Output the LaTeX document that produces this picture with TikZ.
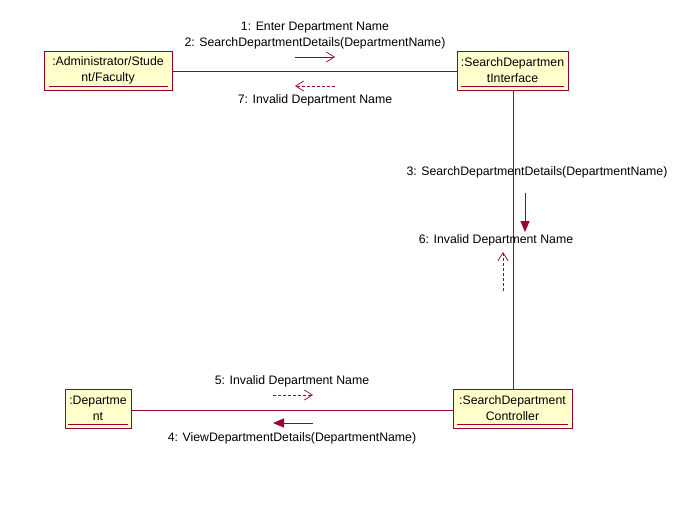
\documentclass[tikz,border=0pt]{standalone}
\usepackage{fontspec}
\setmainfont{Liberation Sans}
\usetikzlibrary{arrows.meta}
\definecolor{uml}{RGB}{150,0,50}
\definecolor{boxfill}{RGB}{255,255,204}
\begin{document}
\begin{tikzpicture}[x=1pt,y=-1pt,
  obj/.style={draw=uml,fill=boxfill,line width=0.9pt,inner sep=0pt,align=center},
  link/.style={draw=uml,line width=0.9pt},
  msg/.style={font=\fontsize{12.3}{15}\selectfont,inner sep=0pt,align=center},
  objtext/.style={font=\fontsize{12.3}{16}\selectfont,inner sep=0pt,align=center},
  synch/.style={draw=uml,line width=1pt,-{Triangle[length=11pt,width=9pt]}},
  call/.style={draw=uml,line width=0.7pt,-{Straight Barb[length=8pt,width=10pt]}},
  ret/.style={draw=uml,line width=0.7pt,dash pattern=on 3pt off 2pt,-{Straight Barb[length=8pt,width=10pt]}}]
\useasboundingbox (0,0) rectangle (689,509);
% boxes
\node[obj,minimum width=128pt,minimum height=39pt] (adm) at (108,70.5) {};
\node[objtext] at (adm.center) {:Administrator/Stude\\nt/Faculty};
\draw[uml,line width=0.8pt] (49,86) -- (168,86);
\node[obj,minimum width=111pt,minimum height=39pt] (sdi) at (512.5,70.5) {};
\node[objtext] at (sdi.center) {:SearchDepartmen\\tInterface};
\draw[uml,line width=0.8pt] (461,86) -- (564,86);
\node[obj,minimum width=119pt,minimum height=39pt] (sdc) at (512.5,408.5) {};
\node[objtext] at (sdc.center) {:SearchDepartment\\Controller};
\draw[uml,line width=0.8pt] (457,424) -- (568,424);
\node[obj,minimum width=66pt,minimum height=39pt] (dep) at (98,408.5) {};
\node[objtext] at (dep.center) {:Departme\\nt};
\draw[uml,line width=0.8pt] (68,424) -- (128,424);
% links
\draw[link] (adm.east |- 0,71) -- (sdi.west |- 0,71);
\draw[link] (sdi.south -| 513,0) -- (sdc.north -| 513,0);
\draw[link] (dep.east |- 0,410) -- (sdc.west |- 0,410);
% messages
\coordinate (m1a) at (295,57); \coordinate (m1b) at (335,57);
\draw[call] (m1a) -- (m1b);
\node[msg] (l1) at (315,28) {1: Enter Department Name};
\node[msg] (l2) at (315,43) {2: SearchDepartmentDetails(DepartmentName)};
\coordinate (m7a) at (335,86); \coordinate (m7b) at (295,86);
\draw[ret] (m7a) -- (m7b);
\node[msg] (l7) at (315,100) {7: Invalid Department Name};
\coordinate (m3a) at (525,193); \coordinate (m3b) at (525,232);
\draw[synch] (m3a) -- (m3b);
\node[msg] (l3) at (537,172) {3: SearchDepartmentDetails(DepartmentName)};
\coordinate (m6a) at (503,291); \coordinate (m6b) at (503,252);
\draw[ret] (m6a) -- (m6b);
\node[msg] (l6) at (496,240) {6: Invalid Department Name};
\coordinate (m5a) at (273,395); \coordinate (m5b) at (313,395);
\draw[ret] (m5a) -- (m5b);
\node[msg] (l5) at (292,381) {5: Invalid Department Name};
\coordinate (m4a) at (313,423); \coordinate (m4b) at (273,423);
\draw[synch] (m4a) -- (m4b);
\node[msg] (l4) at (292,438) {4: ViewDepartmentDetails(DepartmentName)};
\end{tikzpicture}
\end{document}
